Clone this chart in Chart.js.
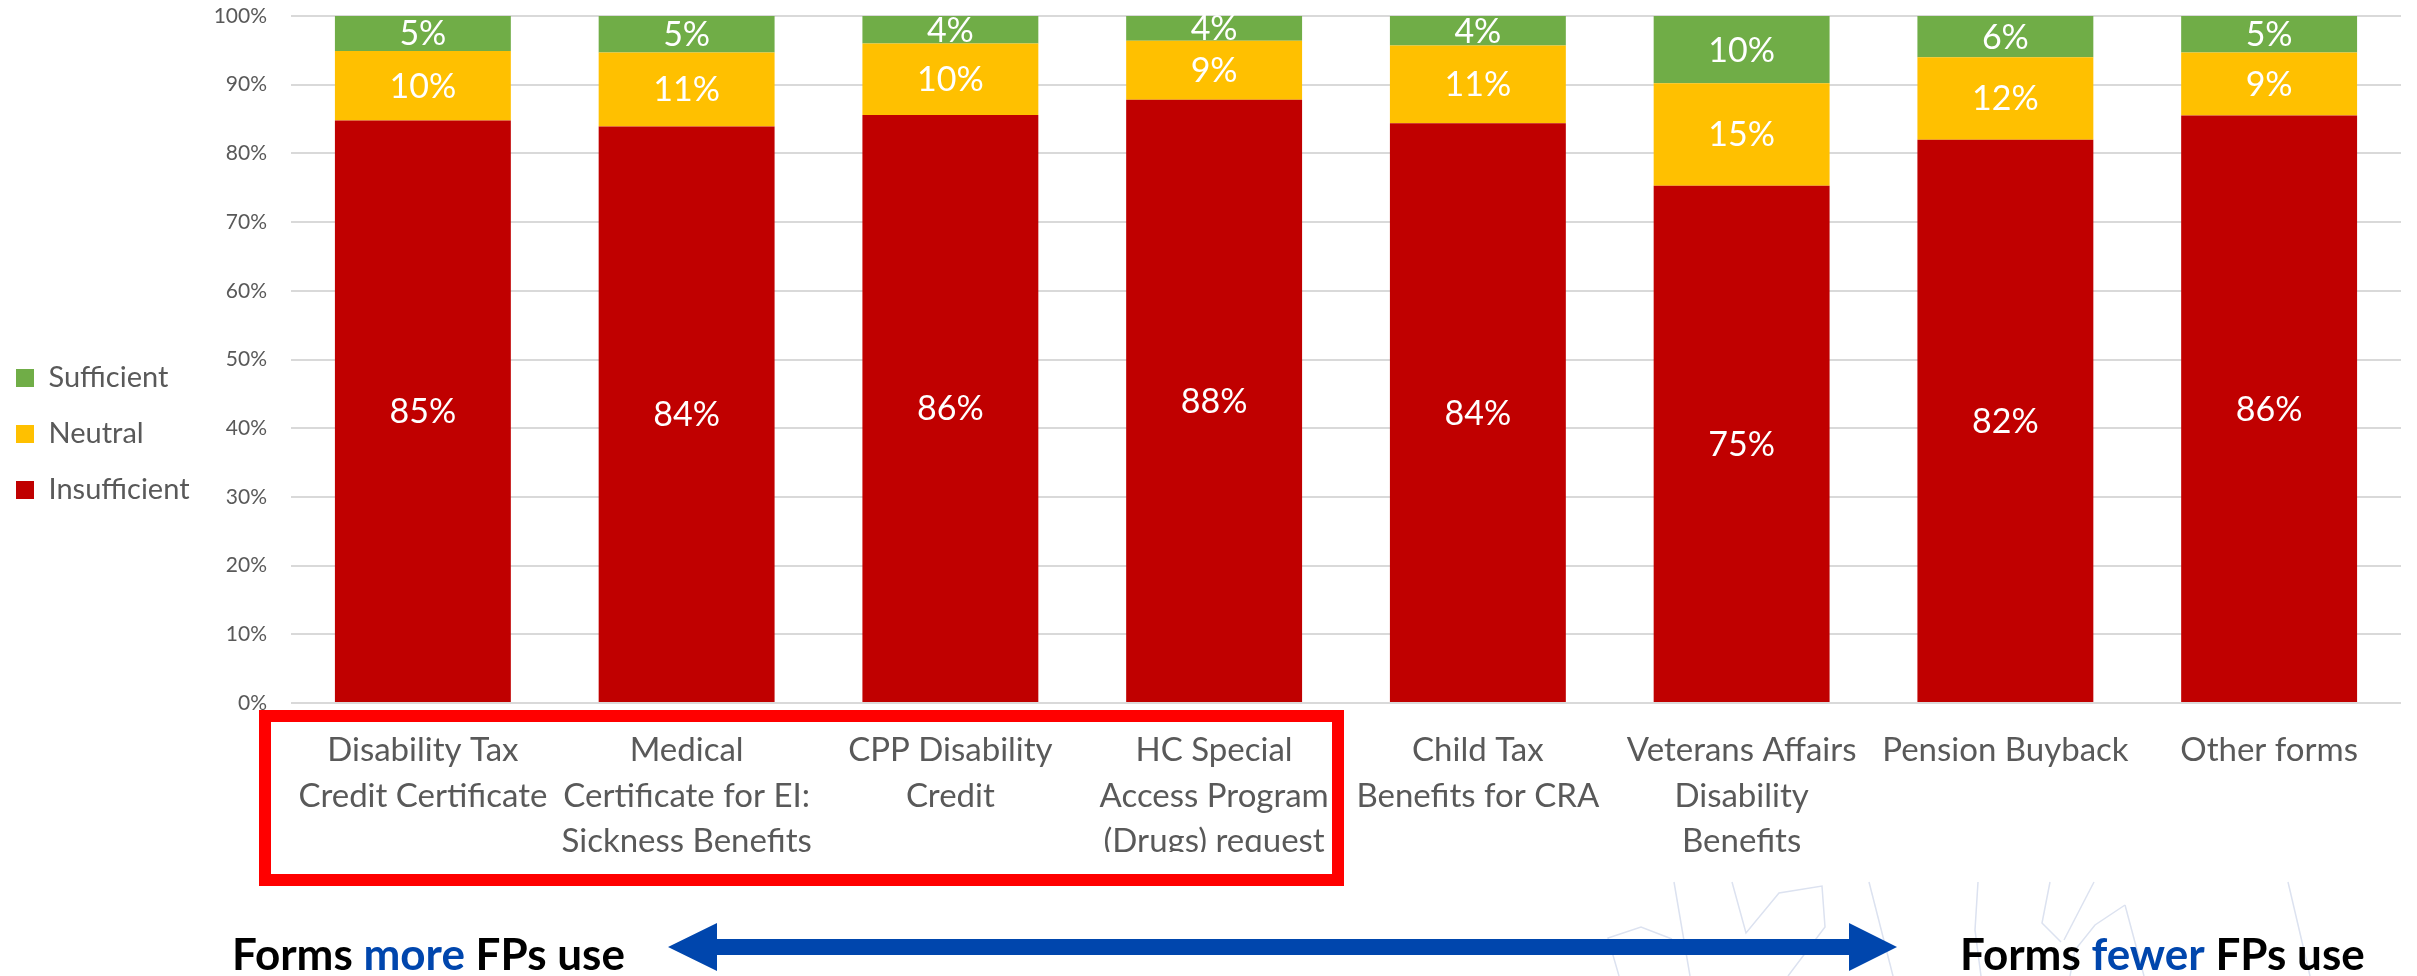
<!DOCTYPE html>
<html>
<head>
<meta charset="utf-8">
<script src="https://cdn.jsdelivr.net/npm/chart.js@4.4.0/dist/chart.umd.min.js"></script>
<style>
  html, body { margin: 0; padding: 0; background: #fff; }
</style>
</head>
<body>
<canvas id="myChart" width="2417" height="976"></canvas>
<script>
const categories = [
  ['Disability Tax', 'Credit Certificate'],
  ['Medical', 'Certificate for EI:', 'Sickness Benefits'],
  ['CPP Disability', 'Credit'],
  ['HC Special', 'Access Program', '(Drugs) request'],
  ['Child Tax', 'Benefits for CRA'],
  ['Veterans Affairs', 'Disability', 'Benefits'],
  ['Pension Buyback'],
  ['Other forms']
];
const insufficient = [84.8, 83.9, 85.6, 87.8, 84.4, 75.3, 82.0, 85.5];
const neutral      = [10.1, 10.8, 10.4,  8.6, 11.3, 14.9, 12.0,  9.2];
const sufficient   = [ 5.1,  5.3,  4.0,  3.6,  4.3,  9.8,  6.0,  5.3];
const yTicks = [0, 10, 20, 30, 40, 50, 60, 70, 80, 90, 100];

const FONT = 'Lato, "Open Sans", sans-serif';
const GREY = '#595959';
const BLUE = '#0046AD';
const PAD_LEFT = -11;
const PLOT_LEFT = 291;

// white % labels in the middle of every segment
const segmentLabels = {
  id: 'segmentLabels',
  afterDatasetsDraw(chart) {
    const c = chart.ctx;
    c.save();
    c.font = '34px ' + FONT;
    c.fillStyle = '#ffffff';
    c.textAlign = 'center';
    c.textBaseline = 'middle';
    chart.data.datasets.forEach((ds, i) => {
      chart.getDatasetMeta(i).data.forEach((bar, j) => {
        c.fillText(Math.round(ds.data[j]) + '%', bar.x, (bar.y + bar.base) / 2 + 1);
      });
    });
    c.restore();
  }
};

// faint line drawing in the lower right background
const backdrop = {
  id: 'backdrop',
  beforeDraw(chart) {
    const c = chart.ctx;
    const strokes = [
      [[1674, 882], [1690, 976]],
      [[1732, 882], [1746, 933], [1779, 893], [1822, 886], [1825, 927], [1788, 976]],
      [[1869, 882], [1893, 976]],
      [[1619, 976], [1608, 938], [1641, 927], [1672, 939]],
      [[1978, 882], [1975, 930], [1981, 976]],
      [[2050, 882], [2042, 923], [2061, 942]],
      [[2094, 882], [2064, 940]],
      [[2125, 905], [2095, 925], [2075, 950], [2070, 976]],
      [[2125, 905], [2144, 976]],
      [[2288, 882], [2310, 976]]
    ];
    c.save();
    c.strokeStyle = '#DCE2F0';
    c.lineWidth = 1.5;
    strokes.forEach(pts => {
      c.beginPath();
      pts.forEach((p, k) => k ? c.lineTo(p[0], p[1]) : c.moveTo(p[0], p[1]));
      c.stroke();
    });
    c.restore();
  }
};

// red frame round the first four forms, arrow and captions underneath
const footer = {
  id: 'footer',
  afterDraw(chart) {
    const c = chart.ctx;
    const x = chart.scales.x;
    const half = (x.getPixelForValue(1) - x.getPixelForValue(0)) / 2;
    c.save();

    c.strokeStyle = '#FF0000';
    c.lineWidth = 12;
    const boxL = x.getPixelForValue(0) - half - 26;
    const boxR = x.getPixelForValue(3) + half - 8;
    c.strokeRect(boxL, 716, boxR - boxL, 164);

    // double headed arrow
    const ay = 947, shaft = 8, head = 24;
    const x0 = 668, x1 = 717, x2 = 1849, x3 = 1897;
    c.fillStyle = BLUE;
    c.beginPath();
    c.moveTo(x0, ay);
    c.lineTo(x1, ay - head);
    c.lineTo(x1, ay - shaft);
    c.lineTo(x2, ay - shaft);
    c.lineTo(x2, ay - head);
    c.lineTo(x3, ay);
    c.lineTo(x2, ay + head);
    c.lineTo(x2, ay + shaft);
    c.lineTo(x1, ay + shaft);
    c.lineTo(x1, ay + head);
    c.closePath();
    c.fill();

    c.font = 'bold 44px ' + FONT;
    c.textBaseline = 'alphabetic';
    c.textAlign = 'left';
    const caption = (parts, startX) => {
      let cx = startX;
      parts.forEach(([txt, col]) => {
        c.fillStyle = col;
        c.fillText(txt, cx, 970);
        cx += c.measureText(txt).width;
      });
    };
    caption([['Forms ', '#000'], ['more', BLUE], [' FPs use', '#000']], 232);
    caption([['Forms ', '#000'], ['fewer', BLUE], [' FPs use', '#000']], 1960);
    c.restore();
  }
};

const ctx = document.getElementById('myChart').getContext('2d');
const myChart = new Chart(ctx, {
  type: 'bar',
  data: {
    labels: categories,
    datasets: [{
      label: 'Insufficient',
      data: insufficient,
      backgroundColor: '#C00000'
    },
    {
      label: 'Neutral',
      data: neutral,
      backgroundColor: '#FFC000'
    },
    {
      label: 'Sufficient',
      data: sufficient,
      backgroundColor: '#70AD47'
    }]
  },
  options: {
    responsive: false,
    animation: false,
    layout: {
      padding: { left: PAD_LEFT, right: 16, top: 16, bottom: 124 }
    },
    datasets: {
      bar: { barPercentage: 0.667, categoryPercentage: 1 }
    },
    plugins: {
      legend: {
        position: 'left',
        reverse: true,
        labels: {
          boxWidth: 18,
          boxHeight: 18,
          padding: 27,
          color: GREY,
          font: { family: FONT, size: 29 }
        }
      },
      tooltip: { enabled: false }
    },
    scales: {
      x: {
        stacked: true,
        grid: { display: false, drawTicks: false },
        border: { display: false },
        ticks: {
          color: GREY,
          autoSkip: false,
          maxRotation: 0,
          padding: 25,
          font: { family: FONT, size: 33, lineHeight: 1.38 }
        },
        afterFit(axis) { axis.height = 149; }
      },
      y: {
        stacked: true,
        min: 0,
        max: 100,
        afterBuildTicks(axis) { axis.ticks = yTicks.map(v => ({ value: v })); },
        ticks: {
          color: GREY,
          padding: 24,
          callback: v => v + '%',
          font: { family: FONT, size: 21 }
        },
        grid: { color: '#D9D9D9', lineWidth: 2, drawTicks: false },
        border: { display: false },
        afterFit(axis) {
          axis.width = PLOT_LEFT - PAD_LEFT - axis.chart.legend.width;
          axis.paddingTop = 0;
          axis.paddingBottom = 0;
        }
      }
    }
  },
  plugins: [backdrop, segmentLabels, footer]
});
</script>
</body>
</html>
